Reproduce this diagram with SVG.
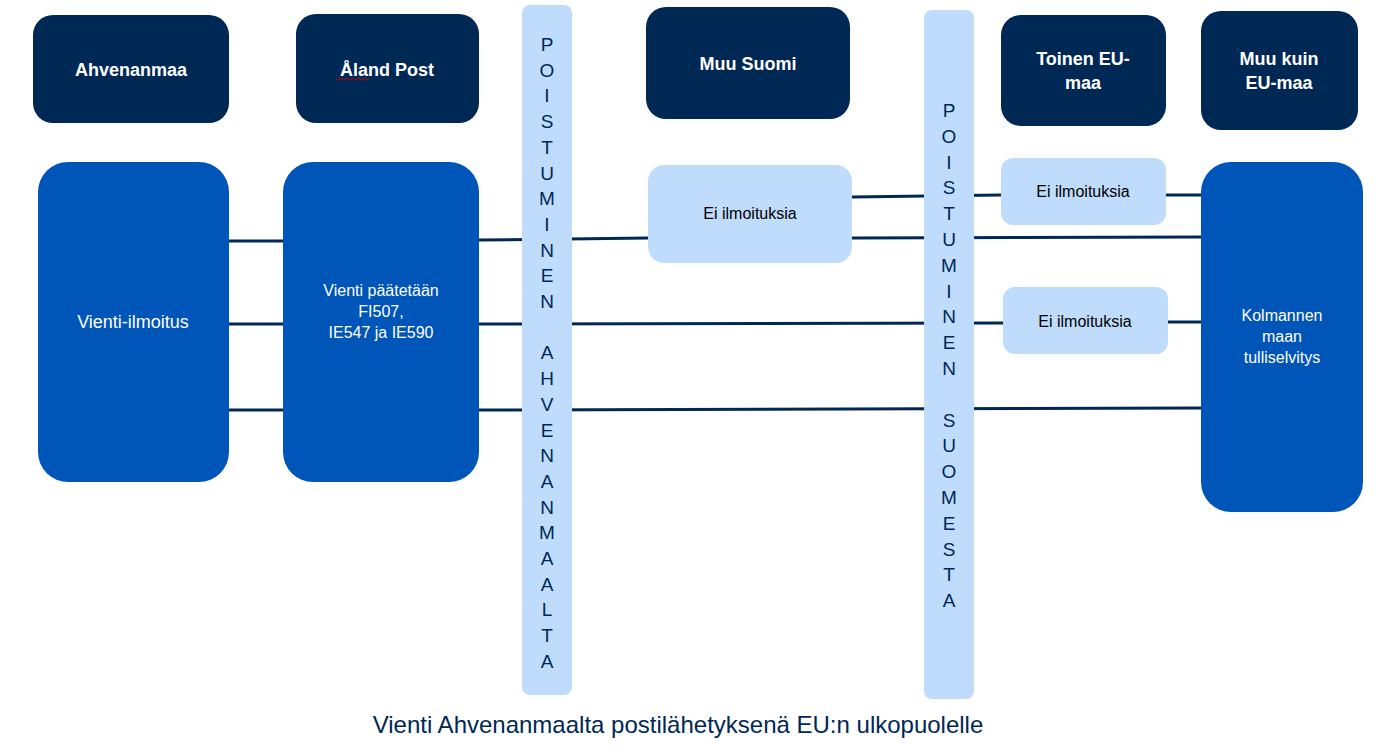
<svg xmlns="http://www.w3.org/2000/svg" width="1381" height="755" viewBox="0 0 1381 755">
<style>
.hd{fill:#002855}.bl{fill:#0055b8}.lt{fill:#bfdcfc}
.ht{fill:#fff;font:bold 18px "Liberation Sans",Arial,sans-serif;text-anchor:middle}
.wt{fill:#fff;font:16px "Liberation Sans",Arial,sans-serif;text-anchor:middle}
.dt{fill:#000;font:16px "Liberation Sans",Arial,sans-serif;text-anchor:middle}
.vt{fill:#002855;font:19px "Liberation Sans",Arial,sans-serif;text-anchor:middle}
.ln{stroke:#002855;stroke-width:3;fill:none}
</style>
<rect width="1381" height="755" fill="#fff"/>
<g id="connectors">
<path class="ln" d="M229 241H283M479 240L648 238M852 197L1001 195M1166 195H1201M852 238L1201 237M229 324H283M479 324L1003 323M1168 322H1201M229 410H283M479 410L1201 408"/>
</g>
<g id="bar1"><rect class="lt" x="522" y="5" width="50" height="690" rx="8"/>
<text class="vt"><tspan x="547" y="51">P</tspan><tspan x="547" y="77">O</tspan><tspan x="547" y="102">I</tspan><tspan x="547" y="128">S</tspan><tspan x="547" y="154">T</tspan><tspan x="547" y="180">U</tspan><tspan x="547" y="205">M</tspan><tspan x="547" y="231">I</tspan><tspan x="547" y="257">N</tspan><tspan x="547" y="282">E</tspan><tspan x="547" y="308">N</tspan><tspan x="547" y="359">A</tspan><tspan x="547" y="385">H</tspan><tspan x="547" y="411">V</tspan><tspan x="547" y="437">E</tspan><tspan x="547" y="462">N</tspan><tspan x="547" y="488">A</tspan><tspan x="547" y="514">N</tspan><tspan x="547" y="539">M</tspan><tspan x="547" y="565">A</tspan><tspan x="547" y="591">A</tspan><tspan x="547" y="616">L</tspan><tspan x="547" y="642">T</tspan><tspan x="547" y="668">A</tspan></text></g>
<g id="bar2"><rect class="lt" x="924" y="10" width="50" height="689" rx="8"/>
<text class="vt"><tspan x="949" y="117">P</tspan><tspan x="949" y="143">O</tspan><tspan x="949" y="169">I</tspan><tspan x="949" y="194">S</tspan><tspan x="949" y="220">T</tspan><tspan x="949" y="246">U</tspan><tspan x="949" y="272">M</tspan><tspan x="949" y="298">I</tspan><tspan x="949" y="323">N</tspan><tspan x="949" y="349">E</tspan><tspan x="949" y="375">N</tspan><tspan x="949" y="427">S</tspan><tspan x="949" y="452">U</tspan><tspan x="949" y="478">O</tspan><tspan x="949" y="504">M</tspan><tspan x="949" y="530">E</tspan><tspan x="949" y="556">S</tspan><tspan x="949" y="581">T</tspan><tspan x="949" y="607">A</tspan></text></g>
<g id="ahvenanmaa"><rect class="hd" x="33" y="15" width="196" height="108" rx="20"/><text class="ht" x="131" y="76">Ahvenanmaa</text></g>
<g id="aland-post"><rect class="hd" x="296" y="14" width="183" height="109" rx="20"/><text class="ht" x="387" y="76">Åland Post</text>
<path d="M336 79q1.5 2 3 0t3 0 3 0 3 0 3 0 3 0 3 0 3 0 3 0 3 0 3 0" stroke="#c00" stroke-width="1" fill="none"/></g>
<g id="muu-suomi"><rect class="hd" x="646" y="7" width="204" height="112" rx="20"/><text class="ht" x="748" y="70">Muu Suomi</text></g>
<g id="toinen-eu"><rect class="hd" x="1001" y="15" width="165" height="111" rx="20"/><text class="ht" x="1083" y="65">Toinen EU-</text><text class="ht" x="1083" y="89">maa</text></g>
<g id="muu-kuin-eu"><rect class="hd" x="1201" y="11" width="157" height="119" rx="20"/><text class="ht" x="1279" y="65">Muu kuin</text><text class="ht" x="1279" y="89">EU-maa</text></g>
<g id="vienti-ilmoitus"><rect class="bl" x="38" y="162" width="191" height="320" rx="30"/><text class="wt" x="133" y="328" style="font-size:18px">Vienti-ilmoitus</text></g>
<g id="vienti-paatetaan"><rect class="bl" x="283" y="162" width="196" height="320" rx="30"/><text class="wt" x="381" y="296">Vienti päätetään</text><text class="wt" x="381" y="317">FI507,</text><text class="wt" x="381" y="338">IE547 ja IE590</text></g>
<g id="ei1"><rect class="lt" x="648" y="165" width="204" height="98" rx="16"/><text class="dt" x="750" y="219">Ei ilmoituksia</text></g>
<g id="ei2"><rect class="lt" x="1001" y="158" width="165" height="67" rx="12"/><text class="dt" x="1083" y="197">Ei ilmoituksia</text></g>
<g id="ei3"><rect class="lt" x="1003" y="287" width="165" height="67" rx="12"/><text class="dt" x="1085" y="327">Ei ilmoituksia</text></g>
<g id="kolmannen"><rect class="bl" x="1201" y="162" width="162" height="350" rx="30"/><text class="wt" x="1282" y="321">Kolmannen</text><text class="wt" x="1282" y="342">maan</text><text class="wt" x="1282" y="363">tulliselvitys</text></g>
<text x="678" y="733" style="fill:#002855;font:24px 'Liberation Sans',Arial,sans-serif;text-anchor:middle">Vienti Ahvenanmaalta postilähetyksenä EU:n ulkopuolelle</text>
</svg>
